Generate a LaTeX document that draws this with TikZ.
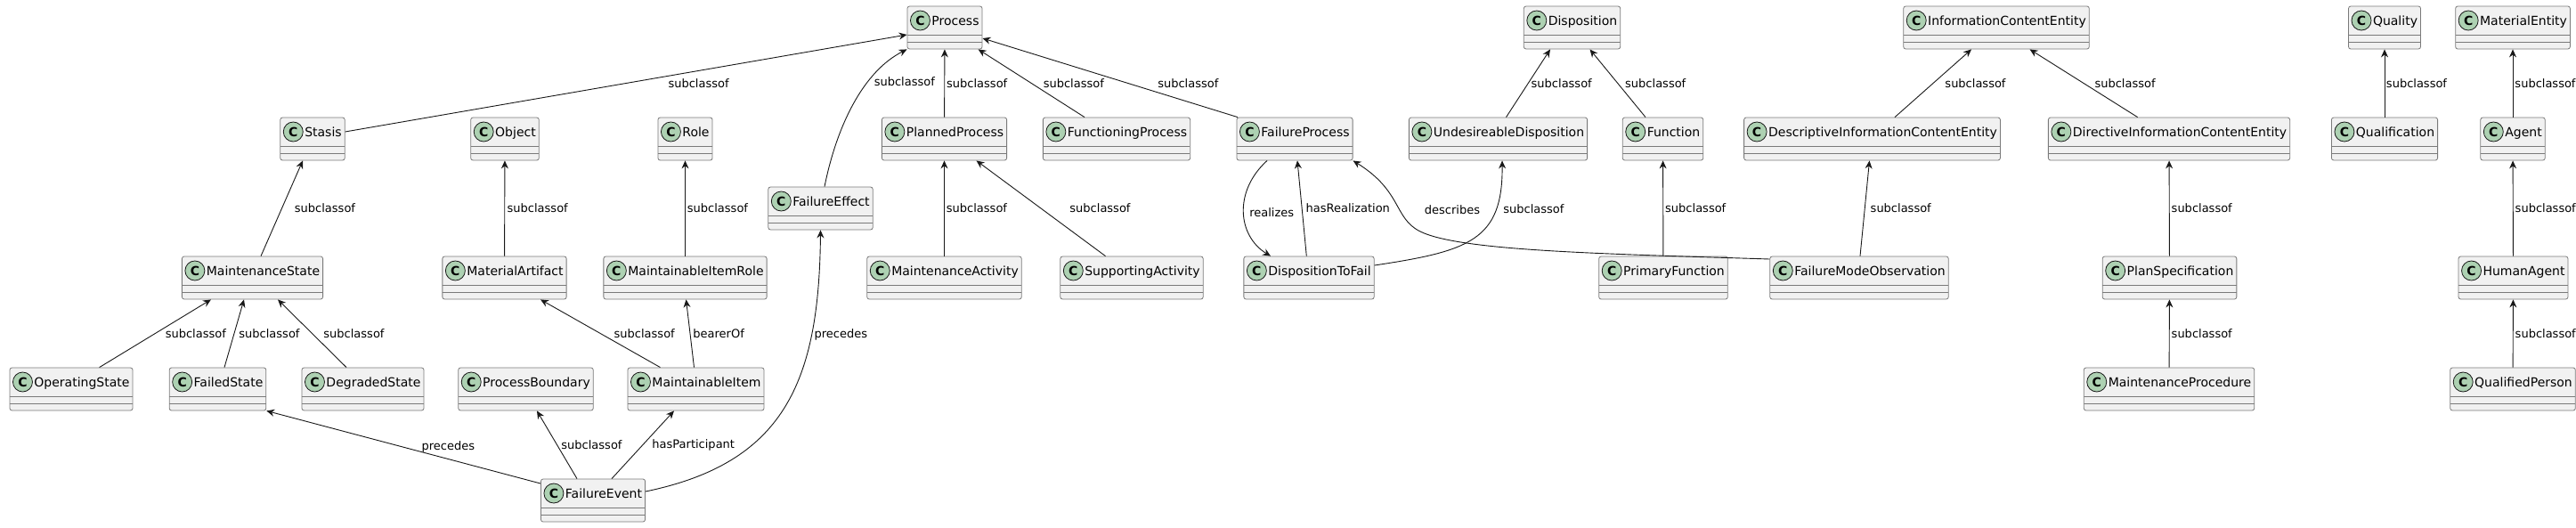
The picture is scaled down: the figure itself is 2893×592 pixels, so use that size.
\documentclass[tikz,border=0pt]{standalone}
\usepackage{fontspec}
\setmainfont{DejaVu Sans}
\usetikzlibrary{arrows.meta}

\definecolor{boxfill}{HTML}{F1F1F1}
\definecolor{boxline}{HTML}{7A7A7A}
\definecolor{iconfill}{HTML}{ADD1B2}
\definecolor{iconline}{HTML}{181818}
\definecolor{lineclr}{HTML}{181818}

\newcommand{\clsfont}{\fontsize{14}{16}\selectfont}
\newcommand{\lblfont}{\fontsize{13}{15}\selectfont}
\newcommand{\iconfont}{\fontsize{14}{16}\selectfont\bfseries}

\begin{document}
\begin{tikzpicture}[
  x=1pt, y=-1pt,
  cls/.style={rectangle, draw=boxline, fill=boxfill, line width=0.8pt, rounded corners=2.5pt,
    minimum height=48pt, inner xsep=3.5pt, inner ysep=0pt, text height=21pt, text depth=27pt,
    font=\clsfont,
    path picture={
      \draw[boxline, line width=0.8pt] ([yshift=-32pt]path picture bounding box.north west) -- ([yshift=-32pt]path picture bounding box.north east);
      \draw[boxline, line width=0.8pt] ([yshift=-40pt]path picture bounding box.north west) -- ([yshift=-40pt]path picture bounding box.north east);
      \draw[draw=iconline, fill=iconfill, line width=0.8pt] ([xshift=14.5pt,yshift=-16pt]path picture bounding box.north west) circle[radius=11pt];
      \node[inner sep=0pt, text height=, text depth=, font=\iconfont, text=black] at ([xshift=14.5pt,yshift=-16pt]path picture bounding box.north west) {C};
    }},
  arr/.style={draw=lineclr, line width=0.9pt, -{Stealth[length=9pt, width=8pt, inset=3pt]}},
  lbl/.style={font=\lblfont, inner sep=0pt, anchor=west, text=black},
]
\useasboundingbox (0,0) rectangle (2893,592);

% Row 0: top classes
\node[cls] (process) at (1061, 31) {\hspace*{24pt}Process};
\node[cls] (disposition) at (1765.5, 31) {\hspace*{24pt}Disposition};
\node[cls] (ice) at (2242, 31) {\hspace*{24pt}InformationContentEntity};
\node[cls] (quality) at (2678, 31) {\hspace*{24pt}Quality};
\node[cls] (materialent) at (2822, 31) {\hspace*{24pt}MaterialEntity};

% Row 1
\node[cls] (stasis) at (351, 156) {\hspace*{24pt}Stasis};
\node[cls] (object) at (567, 156) {\hspace*{24pt}Object};
\node[cls] (role) at (769.5, 156) {\hspace*{24pt}Role};
\node[cls] (planned) at (1060.5, 156) {\hspace*{24pt}PlannedProcess};
\node[cls] (functioning) at (1254, 156) {\hspace*{24pt}FunctioningProcess};
\node[cls] (failproc) at (1454, 156) {\hspace*{24pt}FailureProcess};
\node[cls] (undesir) at (1682.5, 156) {\hspace*{24pt}UndesireableDisposition};
\node[cls] (function) at (1867.5, 156) {\hspace*{24pt}Function};
\node[cls] (descice) at (2102.5, 156) {\hspace*{24pt}DescriptiveInformationContentEntity};
\node[cls] (dirice) at (2436, 156) {\hspace*{24pt}DirectiveInformationContentEntity};
\node[cls] (qualification) at (2678, 156) {\hspace*{24pt}Qualification};
\node[cls] (agent) at (2822, 156) {\hspace*{24pt}Agent};
\node[cls] (effect) at (921.5, 234) {\hspace*{24pt}FailureEffect};

% Row 2
\node[cls] (mstate) at (283.5, 312) {\hspace*{24pt}MaintenanceState};
\node[cls] (artifact) at (566.5, 312) {\hspace*{24pt}MaterialArtifact};
\node[cls] (itemrole) at (769.5, 312) {\hspace*{24pt}MaintainableItemRole};
\node[cls] (mactivity) at (1060.5, 312) {\hspace*{24pt}MaintenanceActivity};
\node[cls] (supporting) at (1271, 312) {\hspace*{24pt}SupportingActivity};
\node[cls] (dispfail) at (1470, 312) {\hspace*{24pt}DispositionToFail};
\node[cls] (primfunc) at (1868, 312) {\hspace*{24pt}PrimaryFunction};
\node[cls] (fmobs) at (2088, 312) {\hspace*{24pt}FailureModeObservation};
\node[cls] (planspec) at (2436.5, 312) {\hspace*{24pt}PlanSpecification};
\node[cls] (humanagent) at (2822.5, 312) {\hspace*{24pt}HumanAgent};

% Row 3
\node[cls] (opstate) at (80, 437) {\hspace*{24pt}OperatingState};
\node[cls] (failstate) at (244.5, 437) {\hspace*{24pt}FailedState};
\node[cls] (degstate) at (407.5, 437) {\hspace*{24pt}DegradedState};
\node[cls] (pboundary) at (590.5, 437) {\hspace*{24pt}ProcessBoundary};
\node[cls] (mitem) at (781.5, 437) {\hspace*{24pt}MaintainableItem};
\node[cls] (mproc) at (2436, 437) {\hspace*{24pt}MaintenanceProcedure};
\node[cls] (qperson) at (2822, 437) {\hspace*{24pt}QualifiedPerson};

% Row 4
\node[cls] (fevent) at (666, 562) {\hspace*{24pt}FailureEvent};

% Arrows into row 0
\draw[arr] ([yshift=8pt]stasis.east) -- ([yshift=-8pt]process.west) node[lbl, pos=.5, xshift=47pt] {subclassof};
\draw[arr] ([xshift=4.5pt]effect.north) .. controls (940,140) and (970,80) .. (process.south west) node[lbl, pos=.66, xshift=6pt] {subclassof};
\draw[arr] (planned) -- (process) node[lbl, pos=.5, xshift=2pt] {subclassof};
\draw[arr] ([xshift=-36pt]functioning.north) -- ([xshift=37.6pt]process.south) node[lbl, pos=.5, xshift=13pt] {subclassof};
\draw[arr] ([xshift=-64pt]failproc.north) -- ([yshift=-12pt]process.east) node[lbl, pos=.43, xshift=33pt] {subclassof};
\draw[arr] ([xshift=9pt]undesir.north) -- ([xshift=-24.5pt]disposition.south) node[lbl, pos=.5, xshift=3pt] {subclassof};
\draw[arr] ([xshift=-19.5pt]function.north) -- ([xshift=20pt]disposition.south) node[lbl, pos=.5, xshift=8pt] {subclassof};
\draw[arr] ([xshift=25.5pt]descice.north) -- ([xshift=-28pt]ice.south) node[lbl, pos=.5, xshift=13pt] {subclassof};
\draw[arr] ([xshift=-35.4pt]dirice.north) -- ([xshift=37.5pt]ice.south) node[lbl, pos=.5, xshift=12pt] {subclassof};
\draw[arr] (qualification) -- (quality) node[lbl, pos=.5, xshift=1.5pt] {subclassof};
\draw[arr] (agent) -- (materialent) node[lbl, pos=.5, xshift=2pt] {subclassof};

% Arrows into row 1
\draw[arr] ([xshift=9.5pt]mstate.north) -- ([xshift=-11pt]stasis.south) node[lbl, pos=.5, xshift=14pt] {subclassof};
\draw[arr] (artifact) -- (object) node[lbl, pos=.5, xshift=2.5pt] {subclassof};
\draw[arr] (itemrole) -- (role) node[lbl, pos=.5, xshift=2pt] {subclassof};
\draw[arr] (mactivity) -- (planned) node[lbl, pos=.5, xshift=2pt] {subclassof};
\draw[arr] ([xshift=-29.5pt]supporting.north) -- ([xshift=36pt]planned.south) node[lbl, pos=.5, xshift=32pt] {subclassof};
\draw[arr] ([xshift=-31pt]failproc.south) .. controls (1385,215) and (1390,265) .. ([xshift=-43pt]dispfail.north) node[lbl, pos=.5, xshift=6pt] {realizes};
\draw[arr] ([xshift=-2.7pt]dispfail.north) -- ([xshift=3pt]failproc.south) node[lbl, pos=.5, xshift=4pt] {hasRealization};
\draw[arr] ([yshift=21pt]fmobs.west) .. controls (1800,285) and (1640,282) .. (1595,260) .. controls (1565,245) and (1575,215) .. (failproc.south east) node[lbl, pos=.4, xshift=28pt] {describes};
\draw[arr] ([yshift=14pt]dispfail.east) .. controls (1650,282) and (1688,270) .. ([xshift=4.5pt]undesir.south) node[lbl, pos=.75, xshift=8pt] {subclassof};
\draw[arr] (primfunc) -- (function) node[lbl, pos=.5, xshift=2pt] {subclassof};
\draw[arr] ([xshift=1pt]fmobs.north) -- ([xshift=-3pt]descice.south) node[lbl, pos=.5, xshift=6pt] {subclassof};
\draw[arr] (planspec) -- (dirice) node[lbl, pos=.5, xshift=2pt] {subclassof};
\draw[arr] (humanagent) -- (agent) node[lbl, pos=.5, xshift=2pt] {subclassof};

% Arrows into row 2
\draw[arr] ([xshift=31.6pt]opstate.north) -- ([xshift=-46.5pt]mstate.south) node[lbl, pos=.5, xshift=11pt] {subclassof};
\draw[arr] ([xshift=7.5pt]failstate.north) -- ([xshift=-9.5pt]mstate.south) node[lbl, pos=.5, xshift=5pt] {subclassof};
\draw[arr] ([xshift=-18.5pt]degstate.north) -- ([xshift=28.5pt]mstate.south) node[lbl, pos=.5, xshift=12.5pt] {subclassof};
\draw[arr] ([xshift=-40pt]mitem.north) -- ([xshift=40.5pt]artifact.south) node[lbl, pos=.5, xshift=15pt] {subclassof};
\draw[arr] ([xshift=-2pt]mitem.north) -- ([xshift=1pt]itemrole.south) node[lbl, pos=.5, xshift=3pt] {bearerOf};
\draw[arr] (mproc) -- (planspec) node[lbl, pos=.5, xshift=2pt] {subclassof};
\draw[arr] (qperson) -- (humanagent) node[lbl, pos=.5, xshift=2pt] {subclassof};

% Arrows out of FailureEvent
\draw[arr] ([yshift=19pt]fevent.west) -- (failstate.south east) node[lbl, pos=.5, xshift=20pt] {precedes};
\draw[arr] ([xshift=-18pt]fevent.north) -- ([xshift=12.5pt]pboundary.south) node[lbl, pos=.5, xshift=4.5pt] {subclassof};
\draw[arr] ([xshift=21pt]fevent.north) -- ([xshift=-24.5pt]mitem.south) node[lbl, pos=.5, xshift=10pt] {hasParticipant};
\draw[arr] ([yshift=10pt]fevent.east) .. controls (880,520) and (920,430) .. (effect.south) node[lbl, pos=.74, xshift=3pt] {precedes};

\end{tikzpicture}
\end{document}
